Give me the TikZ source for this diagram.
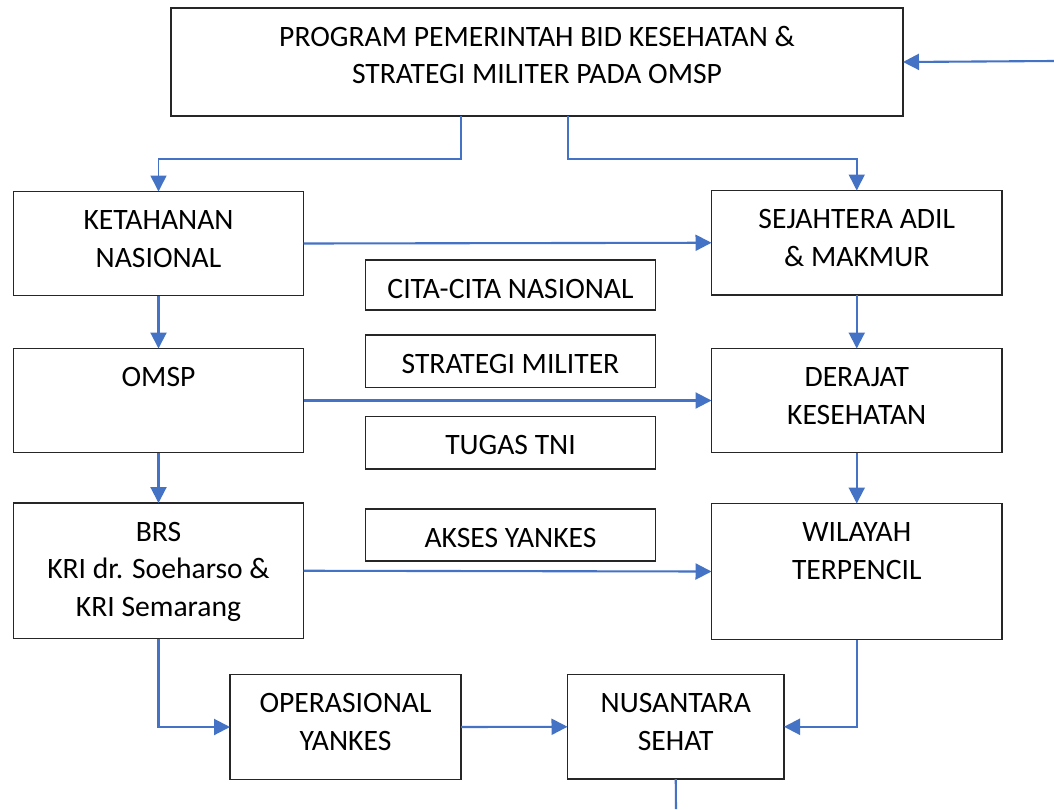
\documentclass[tikz,border=0pt]{standalone}
\usepackage{fontspec}
\setmainfont{Carlito}
\usetikzlibrary{arrows.meta}
\definecolor{lnk}{HTML}{4472C4}
\newcommand\mybox[6]{%
  \node[boxst, minimum width=#4pt, minimum height=#5pt, anchor=north west] (#1) at (#2,#3) {};
  \node[txtst, anchor=north] (#1-t) at ([yshift=-11.75pt]#1.north) {\strut #6};}
\begin{document}
\begin{tikzpicture}[x=1pt,y=-1pt,
  boxst/.style={draw=black!85, line width=1.2pt, fill=white, inner sep=0pt, outer sep=0pt, rectangle},
  txtst/.style={inner sep=0pt, outer sep=0pt, align=center, font=\fontsize{29.6}{37.5}\selectfont},
  conn/.style={draw=lnk, line width=2.1pt, -{Triangle[length=16pt,width=16pt]}},
  connthin/.style={conn, line width=1.6pt}]
\fill[white] (0,0) rectangle (1054,809);
\useasboundingbox (0,0) rectangle (1054,809);

\mybox{top}{171}{8}{732}{108}{PROGRAM PEMERINTAH BID KESEHATAN \&\\STRATEGI MILITER PADA OMSP}
\mybox{ket}{13.5}{191.5}{290}{104}{KETAHANAN\\NASIONAL}
\mybox{sej}{711.5}{190.5}{290.5}{104.5}{SEJAHTERA ADIL\\\& MAKMUR}
\mybox{cita}{365.5}{260}{290}{50}{CITA-CITA NASIONAL}
\mybox{strat}{365.5}{335}{290}{52.5}{STRATEGI MILITER}
\mybox{tugas}{365.5}{416.5}{290}{52.5}{TUGAS TNI}
\mybox{akses}{365.5}{509}{290}{52}{AKSES YANKES}
\mybox{omsp}{13.5}{348.5}{290}{104}{OMSP}
\mybox{der}{711.5}{348.5}{290.5}{104}{DERAJAT\\KESEHATAN}
\mybox{brs}{13.5}{503}{290}{135.5}{BRS\\KRI dr. Soeharso \&\\KRI Semarang}
\mybox{wil}{711.5}{503.5}{290.5}{136}{WILAYAH\\TERPENCIL}
\mybox{ops}{230}{674.5}{231}{105}{OPERASIONAL\\YANKES}
\mybox{nus}{567.5}{674.5}{216.5}{104.5}{NUSANTARA\\SEHAT}

\coordinate (inR) at (1054,61);
\coordinate (outB) at (676,809);

\draw[connthin] ([xshift=-76pt]top.south) -- ++(0,43) -| (ket.north);
\draw[connthin] ([xshift=31pt]top.south) -- ++(0,43) -| (sej.north);
\draw[conn] (inR) -- (top.east);
\draw[conn] (ket.east) -- (sej.west);
\draw[conn] (ket.south) -- (omsp.north);
\draw[conn] (sej.south) -- (der.north);
\draw[conn] (omsp.east) -- (der.west);
\draw[conn] (omsp.south) -- (brs.north);
\draw[conn] (der.south) -- (wil.north);
\draw[conn] (brs.east) -- (wil.west);
\draw[conn] (brs.south) |- (ops.west);
\draw[conn] (ops.east) -- (nus.west);
\draw[conn] (wil.south) |- (nus.east);
\draw[draw=lnk, line width=2.1pt] (nus.south) -- (outB);
\end{tikzpicture}
\end{document}
